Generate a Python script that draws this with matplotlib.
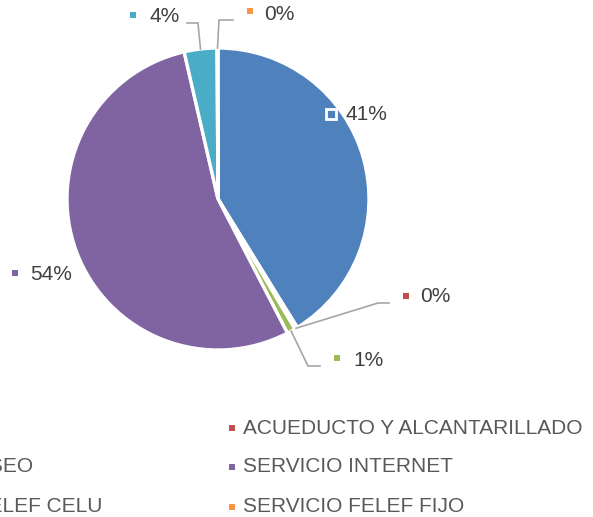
import matplotlib
matplotlib.use("Agg")
import matplotlib.pyplot as plt
import numpy as np

plt.rcParams['font.family'] = ['Liberation Sans', 'DejaVu Sans']

# datos del grafico
servicios = ["ENERGIA", "ACUEDUCTO Y ALCANTARILLADO", "SERVICIO ASEO",
             "SERVICIO INTERNET", "SERVICIO TELEF CELU", "SERVICIO FELEF FIJO"]
porcentajes = [41.2, 0.3, 0.9, 54.0, 3.5, 0.1]
colores = ["#4F81BD", "#C0504D", "#9BBB59", "#8064A2", "#4BACC6", "#F79646"]

W, H = 593, 517
CX, CY, R = 218, 199, 151
TXT = "#595959"
GRIS = "#A6A6A6"


def py(y):
    # pixel (desde arriba) -> coordenada de datos
    return H - y


fig = plt.figure(figsize=(W / 100, H / 100), dpi=100)
ax = fig.add_axes([0, 0, 1, 1])

wedges, _ = ax.pie(porcentajes, colors=colores, startangle=90, counterclock=False,
                   center=(CX, py(CY)), radius=R,
                   wedgeprops=dict(edgecolor="white", linewidth=2.4))
ax.set_xlim(0, W)
ax.set_ylim(0, H)
ax.set_aspect("auto")
ax.axis("off")

# posiciones de etiquetas (marcador, texto) y codos de lineas guia
etiquetas = [
    ((331, 114), (345, 114), None),
    ((406, 296), (420, 297), [(378, 303), (389, 303)]),
    ((337, 358), (353, 360), [(308, 366), (320, 366)]),
    ((15, 273), (30, 275), None),
    ((133, 15), (149, 17), [(198, 23), (187, 23)]),
    ((250, 11), (264, 14), [(219, 20), (233, 20)]),
]

total = sum(porcentajes)
acum = 0
for i, (p, col) in enumerate(zip(porcentajes, colores)):
    mid = (acum + p / 2) / total
    acum += p
    ang = np.deg2rad(90 - 360 * mid)
    (mx, my), (tx, ty), codo = etiquetas[i]
    if codo is not None:
        ex, ey = CX + R * np.cos(ang), CY - R * np.sin(ang)
        xs = [ex] + [c[0] for c in codo]
        ys = [py(ey)] + [py(c[1]) for c in codo]
        ax.plot(xs, ys, color=GRIS, lw=1.2, solid_joinstyle="miter")
    if i == 0:
        ax.plot(mx, py(my), marker="s", ms=7, mfc=col, mec="white", mew=2)
    else:
        ax.plot(mx, py(my), marker="s", ms=5, mfc=col, mec=col, mew=0)
    ax.text(tx, py(ty), f"{round(100 * p / total)}%", fontsize=15, color="#404040",
            ha="left", va="center")

# leyenda (recortada a la izquierda como en el original)
col_x = [-140, 232]
fila_y = [428, 467, 507]
for i, (nombre, col) in enumerate(zip(servicios, colores)):
    x = col_x[i % 2]
    y = fila_y[i // 2]
    ax.plot(x, py(y), marker="s", ms=5, mfc=col, mec=col, mew=0, clip_on=False)
    ax.text(x + 11, py(y), nombre, fontsize=15, color=TXT, ha="left", va="center")

fig.savefig("out.png", dpi=100)
